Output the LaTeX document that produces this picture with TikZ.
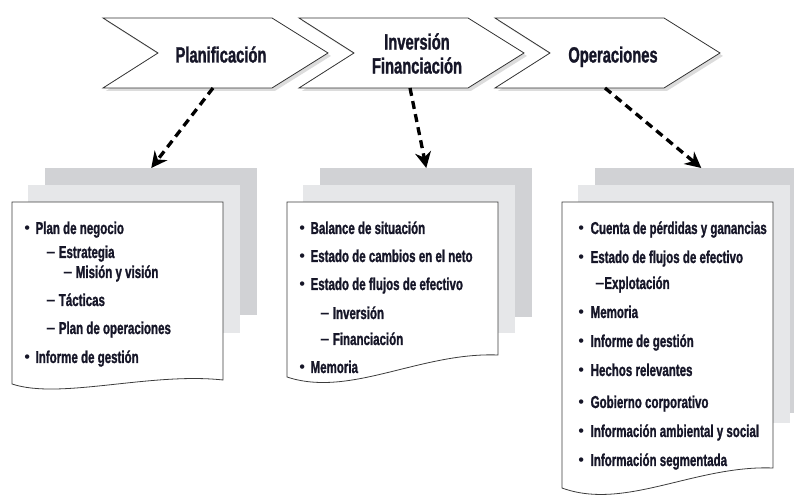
\documentclass[tikz,border=0pt]{standalone}
\usepackage{fontspec}
\setmainfont{Liberation Sans}[FakeStretch=0.67, BoldFeatures={FakeBold=1.2}]
\newfontfamily\bulletfont{Liberation Sans}[Scale=0.95]
\usetikzlibrary{arrows.meta,shadows}
\definecolor{ink}{RGB}{22,22,40}
\definecolor{pageback}{RGB}{209,210,213}
\definecolor{pagemid}{RGB}{230,231,233}
\definecolor{pageline}{RGB}{60,60,60}
\newcommand\itb[1][4.2pt]{{\bulletfont\mdseries •}\hspace{#1}}
\newcommand\itd[1][2.6pt]{{\bulletfont\bfseries –}\hspace{#1}}
\begin{document}
\begin{tikzpicture}[x=0.75pt,y=-0.75pt,
  chev/.style={fill=white, draw=black!80, line width=0.6pt,
    drop shadow={shadow xshift=2.2pt, shadow yshift=-2.2pt, opacity=0.28}},
  titletext/.style={text=ink, font=\fontsize{16.5}{18}\selectfont\bfseries, align=center, inner sep=0pt},
  itemtext/.style={anchor=base west, inner sep=0pt, text=ink, font=\fontsize{12.9}{15}\selectfont\bfseries},
  backpage/.style={fill=pageback, draw=none, inner sep=0pt, anchor=north west},
  midpage/.style={fill=pagemid, draw=none, inner sep=0pt, anchor=north west},
  frontpage/.style={fill=white, draw=pageline, line width=0.6pt},
  arr/.style={line width=2.5pt, dash pattern=on 6pt off 4pt,
    -{Stealth[length=12pt,width=12pt,inset=4pt]}}
]
\useasboundingbox (0,0) rectangle (794,498);
\clip (0,0) rectangle (794,498);

% chevrons
\draw[chev] (103,18) -- (272,18) -- (328,53) -- (272,88) -- (103,88) -- (158,53) -- cycle;
\draw[chev] (299,18) -- (468,18) -- (524,53) -- (468,88) -- (299,88) -- (354,53) -- cycle;
\draw[chev] (495,18) -- (664,18) -- (720,53) -- (664,88) -- (495,88) -- (550,53) -- cycle;
\node[titletext, anchor=base] (t1) at (221,62.5) {Planificación};
\node[titletext, anchor=south] (t2) at (417,74) {Inversión\\Financiación};
\node[titletext, anchor=base] (t3) at (613,62.5) {Operaciones};
\coordinate (a1) at (213,88);
\coordinate (a2) at (410,88);
\coordinate (a3) at (605,88);

% stacked pages
\node[backpage, minimum width=159pt, minimum height=110.25pt] (bk1) at (45,168) {};
\node[midpage, minimum width=159pt, minimum height=111pt] (md1) at (28,185) {};
\draw[frontpage] (12,202) -- (223,202) -- (223,380) .. controls (150,372) and (60,400) .. (12,384) -- cycle;

\node[backpage, minimum width=159pt, minimum height=111.75pt] (bk2) at (320,168) {};
\node[midpage, minimum width=159pt, minimum height=111pt] (md2) at (303,185) {};
\draw[frontpage] (287,202) -- (498,202) -- (498,355) .. controls (420,352) and (350,398) .. (287,377) -- cycle;

\node[backpage, minimum width=159pt, minimum height=183.75pt] (bk3) at (595,168) {};
\node[midpage, minimum width=159pt, minimum height=178.5pt] (md3) at (578,185) {};
\draw[frontpage] (562,202) -- (773,202) -- (773,468) .. controls (695,465) and (625,511) .. (562,488) -- cycle;

% arrows
\draw[arr] (a1) -- (bk1.north);
\draw[arr] (a2) -- (bk2.north);
\draw[arr] (a3) -- (bk3.north);

% page 1 text
\node[itemtext] (p1a) at (24,234) {\itb Plan de negocio};
\node[itemtext] (p1b) at (46,258) {\itd Estrategia};
\node[itemtext] (p1c) at (63,278) {\itd Misión y visión};
\node[itemtext] (p1d) at (46,306) {\itd Tácticas};
\node[itemtext] (p1e) at (46,334) {\itd Plan de operaciones};
\node[itemtext] (p1f) at (24,363) {\itb Informe de gestión};

% page 2 text
\node[itemtext] (p2a) at (299,234) {\itb Balance de situación};
\node[itemtext] (p2b) at (299,262) {\itb Estado de cambios en el neto};
\node[itemtext] (p2c) at (299,290) {\itb Estado de flujos de efectivo};
\node[itemtext] (p2d) at (320,319) {\itd Inversión};
\node[itemtext] (p2e) at (320,345) {\itd Financiación};
\node[itemtext] (p2f) at (299,373) {\itb Memoria};

% page 3 text
\node[itemtext] (p3a) at (578,234) {\itb[2.6pt] Cuenta de pérdidas y ganancias};
\node[itemtext] (p3b) at (578,263) {\itb[2.6pt] Estado de flujos de efectivo};
\node[itemtext] (p3c) at (595,289) {\itd[0pt]Explotación};
\node[itemtext] (p3d) at (578,318) {\itb[2.6pt] Memoria};
\node[itemtext] (p3e) at (578,347) {\itb[2.6pt] Informe de gestión};
\node[itemtext] (p3f) at (578,376) {\itb[2.6pt] Hechos relevantes};
\node[itemtext] (p3g) at (578,408) {\itb[2.6pt] Gobierno corporativo};
\node[itemtext] (p3h) at (578,437) {\itb[2.6pt] Información ambiental y social};
\node[itemtext] (p3i) at (578,466) {\itb[2.6pt] Información segmentada};
\end{tikzpicture}
\end{document}
